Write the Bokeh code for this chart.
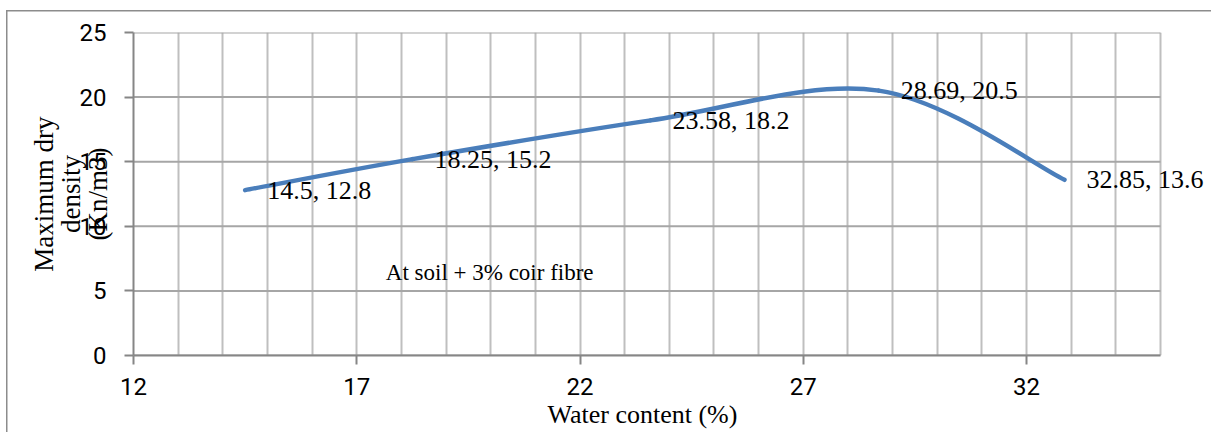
from bokeh.plotting import figure
from bokeh.models import (Range1d, FixedTicker, Label, ColumnDataSource, LabelSet,
                          InlineStyleSheet, Title)
from bokeh.embed import file_html
from bokeh.resources import INLINE

# data
water_content = [14.5, 18.25, 23.58, 28.69, 32.85]
dry_density = [12.8, 15.2, 18.2, 20.5, 13.6]
x_ticks = [12, 17, 22, 27, 32]
y_ticks = [0, 5, 10, 15, 20, 25]
x_min, x_max = 12, 35
point_labels = [f"{x:g}, {y:g}" for x, y in zip(water_content, dry_density)]

# frame: x_min..x_max spans 1027 px; extend the frame to the right edge so that labels are not clipped
px_per_unit = 1027 / (x_max - x_min)
x_view_end = x_max + 51 / px_per_unit

p = figure(width=1211, height=432, output_backend="svg", toolbar_location=None,
           x_range=Range1d(x_min, x_view_end), y_range=Range1d(0, 25),
           min_border_left=133, min_border_right=0, min_border_top=32, min_border_bottom=77)
p.outline_line_color = None
p.background_fill_color = None
p.border_fill_color = None
p.stylesheets = [InlineStyleSheet(css=""":host {
  background-color: white;
  background-image: linear-gradient(#8c8c8c, #8c8c8c), linear-gradient(#8c8c8c, #8c8c8c);
  background-size: 1.5px 100%, 100% 1.5px;
  background-position: 6px 10px, 6px 10px;
  background-repeat: no-repeat;
}""")]

# horizontal grid lines, limited to the x range of the chart
p.segment(x0=[x_min] * len(y_ticks), x1=[x_max] * len(y_ticks), y0=y_ticks, y1=y_ticks,
          line_color="#a6a6a6", line_width=2)

# smoothed line (Excel-like Catmull-Rom bezier segments)
n = len(water_content)
x0s, y0s, x1s, y1s, cx0s, cy0s, cx1s, cy1s = [], [], [], [], [], [], [], []
for i in range(n - 1):
    pm = max(i - 1, 0)
    pp = min(i + 2, n - 1)
    x0, y0 = water_content[i], dry_density[i]
    x1, y1 = water_content[i + 1], dry_density[i + 1]
    x0s.append(x0); y0s.append(y0); x1s.append(x1); y1s.append(y1)
    cx0s.append(x0 + (x1 - water_content[pm]) / 6)
    cy0s.append(y0 + (y1 - dry_density[pm]) / 6)
    cx1s.append(x1 - (water_content[pp] - x0) / 6)
    cy1s.append(y1 - (dry_density[pp] - y0) / 6)
p.bezier(x0=x0s, y0=y0s, x1=x1s, y1=y1s, cx0=cx0s, cy0=cy0s, cx1=cx1s, cy1=cy1s,
         line_color="#4a7ebb", line_width=4.5, line_cap="round")

src = ColumnDataSource(dict(x=water_content, y=dry_density, t=point_labels))
p.add_layout(LabelSet(x="x", y="y", text="t", source=src, x_offset=22, y_offset=0,
                      text_font="Liberation Serif", text_font_size="26px",
                      text_baseline="middle", text_align="left", text_color="black"))

p.add_layout(Label(x=17.65, y=6.4, text="At soil + 3% coir fibre", text_font="Liberation Serif",
                   text_font_size="23px", text_baseline="middle", text_align="left", text_color="black"))

# axes
p.xaxis.ticker = FixedTicker(ticks=x_ticks)
p.yaxis.ticker = FixedTicker(ticks=y_ticks)
p.xaxis.bounds = (x_min, x_max)
for ax in (p.xaxis[0], p.yaxis[0]):
    ax.axis_line_color = "#868686"
    ax.axis_line_width = 2
    ax.major_tick_line_color = "#868686"
    ax.major_tick_line_width = 2
    ax.major_tick_out = 9
    ax.major_tick_in = 0
    ax.minor_tick_line_color = None
    ax.major_label_text_font = "Roboto"
    ax.major_label_text_font_size = "24px"
    ax.major_label_text_color = "black"
    ax.axis_label_text_font = "Liberation Serif"
    ax.axis_label_text_font_size = "27px"
    ax.axis_label_text_font_style = "normal"
    ax.axis_label_text_color = "black"
p.yaxis.major_label_standoff = 18
p.xaxis.major_label_standoff = 13
p.yaxis.axis_label = "Maximum dry\ndensity\n(Kn/m3)"
p.yaxis.axis_label_text_line_height = 0.9
p.yaxis.axis_label_standoff = -36

# x axis title, centred under the x_min..x_max part of the frame
p.add_layout(Title(text="Water content (%)", align="left", offset=414, standoff=0,
                   text_font="Liberation Serif", text_font_size="26px",
                   text_font_style="normal", text_color="black"), "below")

p.xgrid.ticker = FixedTicker(ticks=list(range(x_min, x_max + 1)))
p.xgrid.grid_line_color = "#bfbfbf"
p.xgrid.grid_line_width = 2
p.ygrid.grid_line_color = None

open("out.html", "w").write(file_html(p, INLINE))
